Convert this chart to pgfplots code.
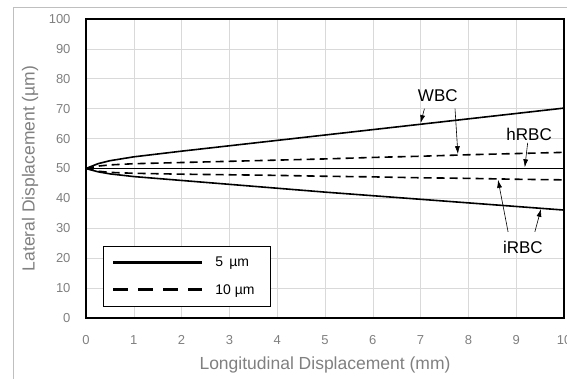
\documentclass[border=0pt]{standalone}
\usepackage{pgfplots}
\pgfplotsset{compat=1.18}
\usepackage{fontspec}
\setmainfont{Liberation Sans}
\usetikzlibrary{arrows.meta}
\definecolor{txtgray}{HTML}{808080}
\definecolor{gridgray}{HTML}{D9D9D9}
\begin{document}
\begin{tikzpicture}[x=1pt,y=1pt]
\begin{axis}[
  at={(0pt,0pt)}, anchor=south west,
  scale only axis, width=478pt, height=299pt,
  xmin=0, xmax=10, ymin=0, ymax=100,
  xtick={0,1,...,10}, ytick={0,10,...,100},
  grid=major, major grid style={gridgray, line width=0.6pt},
  major tick length=0pt,
  axis line style={black, line width=1.4pt},
  /pgf/number format/assume math mode=true,
  tick label style={font=\fontsize{13}{15}\selectfont, text=txtgray},
  yticklabel style={xshift=-12pt},
  xticklabel style={yshift=-14pt},
  xlabel={Longitudinal Displacement (mm)},
  ylabel={Lateral Displacement (µm)},
  label style={font=\fontsize{17.5}{20}\selectfont, text=txtgray},
  xlabel style={at={(axis description cs:0.5,-0.157)}, anchor=center},
  ylabel style={at={(axis description cs:-0.117,0.5)}, anchor=center},
  legend style={at={(0.036,0.037)}, anchor=south west, draw=black, line width=0.8pt,
    font=\fontsize{14}{16}\selectfont, row sep=12pt, inner xsep=8pt, inner ysep=9pt,
    /tikz/every odd column/.append style={column sep=4pt}},
  legend cell align=left,
  legend image code/.code={\draw[#1] (0pt,0pt) -- (89pt,0pt);},
]
% WBC 5 um
\addplot[black, line width=1.6pt, forget plot] coordinates {(0,50)(0.25,51.6)(0.5,52.6)(1,53.9)(2,55.8)(3,57.6)(4,59.4)(5,61.2)(6,63.0)(7,64.8)(8,66.6)(9,68.4)(10,70.2)};
% hRBC 5 um
\addplot[black, line width=1.6pt, forget plot] coordinates {(0,50)(10,50)};
% iRBC 5 um
\addplot[black, line width=1.6pt, forget plot] coordinates {(0,50)(0.25,48.9)(0.5,48.2)(1,47.3)(2,46.0)(3,44.7)(4,43.4)(5,42.1)(6,40.9)(7,39.7)(8,38.5)(9,37.3)(10,36.1)};
% WBC 10 um
\addplot[black, line width=1.6pt, dash pattern=on 8pt off 5pt, forget plot] coordinates {(0,50)(0.25,50.8)(0.5,51.2)(1,51.6)(2,52.0)(3,52.4)(4,52.8)(5,53.2)(6,53.7)(7,54.1)(8,54.6)(9,55.0)(10,55.4)};
% iRBC 10 um
\addplot[black, line width=1.6pt, dash pattern=on 8pt off 5pt, forget plot] coordinates {(0,50)(0.25,49.1)(0.5,48.7)(1,48.4)(2,48.1)(3,47.9)(4,47.7)(5,47.4)(6,47.2)(7,46.9)(8,46.7)(9,46.4)(10,46.2)};
\addlegendimage{black, line width=2.8pt}
\addlegendentry{\hspace*{6pt}5 \,µm\hspace*{6pt}}
\addlegendimage{black, line width=2.8pt, dash pattern=on 15pt off 10pt}
\addlegendentry{\hspace*{6pt}10 µm\hspace*{6pt}}
% annotations
\node[font=\fontsize{17}{19}\selectfont] at (axis cs:7.36,74.2) {WBC};
\draw[-{Latex[length=8pt,width=5pt]}, line width=0.6pt] (axis cs:7.08,70.0) -- (axis cs:7.0,65.2);
\draw[-{Latex[length=8pt,width=5pt]}, line width=0.6pt] (axis cs:7.72,70.0) -- (axis cs:7.78,54.8);
\node[font=\fontsize{17}{19}\selectfont] at (axis cs:9.27,61.5) {hRBC};
\draw[-{Latex[length=8pt,width=5pt]}, line width=0.6pt] (axis cs:9.24,58.6) -- (axis cs:9.18,50.4);
\node[font=\fontsize{17}{19}\selectfont] at (axis cs:9.14,23.6) {iRBC};
\draw[-{Latex[length=8pt,width=5pt]}, line width=0.6pt] (axis cs:8.83,28.8) -- (axis cs:8.62,46.2);
\draw[-{Latex[length=8pt,width=5pt]}, line width=0.6pt] (axis cs:9.39,28.8) -- (axis cs:9.52,36.5);
\end{axis}
\draw[gray!50, line width=0.8pt] (-73pt,-70pt) -- (-73pt,311pt) -- (500pt,311pt);
\pgfresetboundingbox
\path[use as bounding box] (-86pt,-61pt) rectangle (481pt,318pt);
\end{tikzpicture}
\end{document}
